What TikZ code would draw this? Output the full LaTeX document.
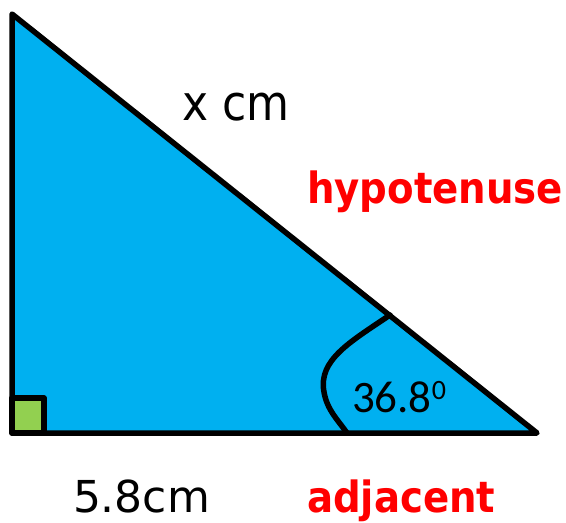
\documentclass[tikz,border=0pt]{standalone}
\usepackage{fontspec}
\setmainfont{DejaVu Sans}
\newfontfamily\condfont{DejaVu Sans Condensed}
\newfontfamily\calfont{Carlito}
\definecolor{triblue}{RGB}{0,176,240}
\definecolor{sqgreen}{RGB}{146,208,80}
\definecolor{lblred}{RGB}{255,0,0}
\begin{document}
\begin{tikzpicture}[x=1pt,y=-1pt,
  edge/.style={line width=5.5pt,line join=round,line cap=round},
  lbl/.style={inner sep=0pt,outer sep=0pt},
  redlbl/.style={lbl,text=lblred,font=\condfont\bfseries\fontsize{43}{43}\selectfont}]
\useasboundingbox (0,0) rectangle (566,523);
\coordinate (T) at (12,14);
\coordinate (O) at (12,433);
\coordinate (R) at (537,433);
\fill[triblue] (T) -- (O) -- (R) -- cycle;
\draw[edge,fill=sqgreen] (12,398) rectangle (44,433);
\draw[edge] (T) -- (O) -- (R) -- cycle;
\coordinate (A1) at (390,315);
\coordinate (A2) at (347,433);
\draw[edge] (A1) .. controls (350,342) and (318,360) .. (324,392) .. controls (327,410) and (338,420) .. (A2);
\node[lbl,anchor=base,font=\condfont\fontsize{49}{49}\selectfont] (hyp) at (236,120) {x cm};
\node[redlbl,anchor=base west] (hypl) at (307,203) {hypotenuse};
\node[lbl,anchor=base west,font=\fontsize{44}{44}\selectfont] (adj) at (73,512) {5.8cm};
\node[redlbl,anchor=base west] (adjl) at (307,512) {adjacent};
\node[lbl,anchor=base west,font=\calfont\fontsize{45}{45}\selectfont] (ang) at (352,412) {36.8\raisebox{13pt}{\fontsize{28}{28}\selectfont 0}};
\end{tikzpicture}
\end{document}
